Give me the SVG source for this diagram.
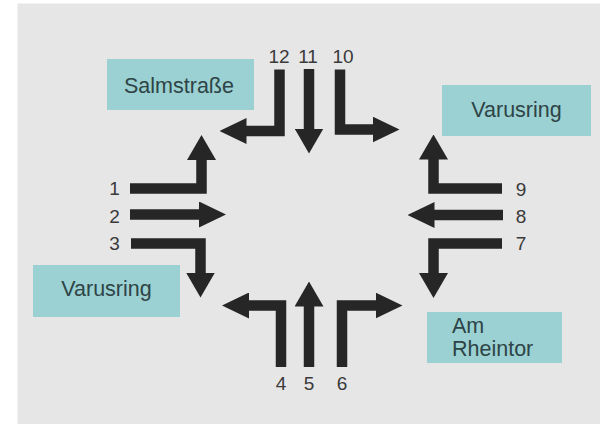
<svg xmlns="http://www.w3.org/2000/svg" width="600" height="427" viewBox="0 0 600 427">
  <style>
    .bg { fill: #e6e6e6; }
    .box { fill: #9bd1d2; }
    .lbl { font-family: "Liberation Sans", Arial, sans-serif; font-size: 21.5px; fill: #2e4446; }
    .num { font-family: "Liberation Sans", Arial, sans-serif; font-size: 19px; fill: #3a3a3a; text-anchor: middle; }
    .arr { fill: none; stroke: #262626; stroke-width: 10.5; stroke-linejoin: miter; stroke-linecap: butt; }
    .h { marker-end: url(#mh); }
    .v { marker-end: url(#mv); }
  </style>
  <defs>
    <marker id="mh" markerUnits="userSpaceOnUse" viewBox="0 0 27 26" markerWidth="27" markerHeight="26" refX="0.5" refY="13" orient="auto">
      <path d="M0,0 L27,13 L0,26 Z" fill="#262626"/>
    </marker>
    <marker id="mv" markerUnits="userSpaceOnUse" viewBox="0 0 25 29" markerWidth="25" markerHeight="29" refX="0.5" refY="14.5" orient="auto">
      <path d="M0,0 L25,14.5 L0,29 Z" fill="#262626"/>
    </marker>
  </defs>

  <rect x="0" y="0" width="600" height="427" fill="#ffffff"/>
  <rect class="bg" x="17.5" y="3.5" width="582.5" height="420.5"/>

  <g id="node-salmstrasse">
    <rect class="box" x="107" y="59" width="147" height="51"/>
    <text class="lbl" x="179" y="93" text-anchor="middle">Salmstraße</text>
  </g>
  <g id="node-varusring-east">
    <rect class="box" x="442" y="85" width="149" height="51"/>
    <text class="lbl" x="516.5" y="117" text-anchor="middle">Varusring</text>
  </g>
  <g id="node-varusring-west">
    <rect class="box" x="33" y="265" width="147" height="52"/>
    <text class="lbl" x="106.5" y="296" text-anchor="middle">Varusring</text>
  </g>
  <g id="node-am-rheintor">
    <rect class="box" x="427" y="312" width="135" height="51"/>
    <text class="lbl" x="452" y="333">Am</text>
    <text class="lbl" x="452" y="356">Rheintor</text>
  </g>

  <g id="connectors">
    <path class="arr v" d="M130,188.5 H201.5 V159.5"/>
    <path class="arr h" d="M130,214.5 H199.5"/>
    <path class="arr v" d="M131,243.5 H200.5 V273"/>
    <path class="arr h" d="M281,367 V305.5 H248.5"/>
    <path class="arr v" d="M309,367 V306"/>
    <path class="arr h" d="M342,367 V305.5 H376"/>
    <path class="arr v" d="M502,243.5 H433.5 V273.5"/>
    <path class="arr h" d="M503,215 H434"/>
    <path class="arr v" d="M502,188.5 H433.5 V159"/>
    <path class="arr h" d="M340,69.5 V129.5 H373"/>
    <path class="arr v" d="M309,69 V129"/>
    <path class="arr h" d="M279.5,69.5 V131 H246"/>
  </g>

  <g id="numbers">
    <text class="num" x="114.5" y="194.5">1</text>
    <text class="num" x="114.5" y="223">2</text>
    <text class="num" x="114.5" y="250">3</text>
    <text class="num" x="281" y="390">4</text>
    <text class="num" x="309" y="390">5</text>
    <text class="num" x="342" y="390">6</text>
    <text class="num" x="521" y="250">7</text>
    <text class="num" x="521" y="223">8</text>
    <text class="num" x="521" y="195.5">9</text>
    <text class="num" x="343" y="62.5">10</text>
    <text class="num" x="308" y="62.5">11</text>
    <text class="num" x="279" y="62.5">12</text>
  </g>
</svg>
